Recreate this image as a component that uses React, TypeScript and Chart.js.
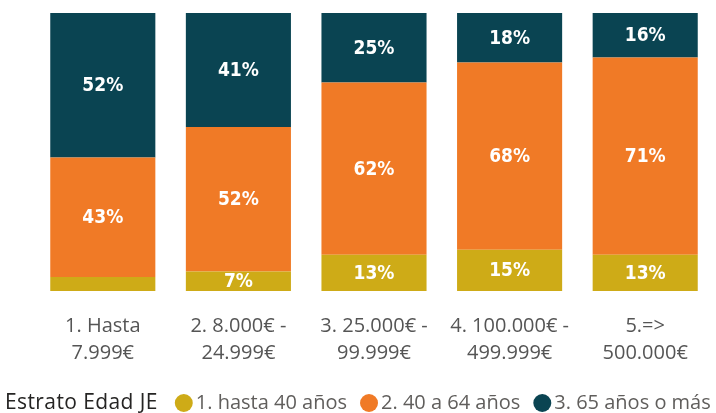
import React, { useEffect, useRef } from "react";
import { Chart, registerables } from "chart.js";

Chart.register(...registerables);

const categories: string[][] = [
  ["1. Hasta", "7.999€"],
  ["2. 8.000€ -", "24.999€"],
  ["3. 25.000€ -", "99.999€"],
  ["4. 100.000€ -", "499.999€"],
  ["5.=>", "500.000€"],
];
const seriesNames = ["1. hasta 40 años", "2. 40 a 64 años", "3. 65 años o más"];
const young = [5, 7, 13, 15, 13];
const middle = [43, 52, 62, 68, 71];
const old = [52, 41, 25, 18, 16];
const colors = ["#CEAB17", "#F07A26", "#0A4452"];
const legendTitle = "Estrato Edad JE";

const rawSeries = [young, middle, old];
const totals = categories.map((_, i) => rawSeries.reduce((s, arr) => s + arr[i], 0));

const FONT = "'Open Sans', 'Noto Sans', sans-serif";

const labelPlugin = {
  id: "segLabels",
  afterDatasetsDraw(chart: any) {
    const ctx = chart.ctx;
    ctx.save();
    ctx.font = "bold 19px 'DejaVu Sans Condensed', 'DejaVu Sans', sans-serif";
    ctx.fillStyle = "#FFFFFF";
    ctx.textAlign = "center";
    ctx.textBaseline = "middle";
    chart.data.datasets.forEach((ds: any, di: number) => {
      const meta = chart.getDatasetMeta(di);
      meta.data.forEach((el: any, i: number) => {
        const h = Math.abs(el.base - el.y);
        if (h < 16) return;
        const raw = rawSeries[di][i];
        ctx.fillText(raw + "%", el.x, (el.y + el.base) / 2 + 1);
      });
    });
    ctx.restore();
  },
};

const legendPlugin = {
  id: "customLegend",
  afterDraw(chart: any) {
    const ctx = chart.ctx;
    ctx.save();
    const y = 403;
    ctx.textBaseline = "middle";
    ctx.textAlign = "left";
    ctx.font = `21px ${FONT}`;
    (ctx as any).letterSpacing = "0.4px";
    ctx.fillStyle = "#252423";
    let x = 5;
    ctx.fillText(legendTitle, x, y);
    x += ctx.measureText(legendTitle).width + 17;
    (ctx as any).letterSpacing = "0px";
    ctx.font = `20px ${FONT}`;
    seriesNames.forEach((name, i) => {
      ctx.fillStyle = colors[i];
      ctx.beginPath();
      ctx.arc(x + 9, y, 9, 0, Math.PI * 2);
      ctx.fill();
      x += 21;
      ctx.fillStyle = "#605E5C";
      ctx.fillText(name, x, y);
      x += ctx.measureText(name).width + 13;
    });
    ctx.restore();
  },
};

export default function App() {
  const ref = useRef<HTMLCanvasElement>(null);
  useEffect(() => {
    if (!ref.current) return;
    const chart = new Chart(ref.current, {
      type: "bar",
      data: {
        labels: categories,
        datasets: rawSeries.map((arr, di) => ({
          label: seriesNames[di],
          data: arr.map((v, i) => (v / totals[i]) * 100),
          backgroundColor: colors[di],
          borderWidth: 0,
          barPercentage: 0.775,
          categoryPercentage: 1,
        })),
      },
      options: {
        responsive: false,
        animation: false,
        layout: { padding: { left: 35, right: 3, top: 13, bottom: 24 } },
        plugins: { legend: { display: false }, tooltip: { enabled: false } },
        scales: {
          x: {
            stacked: true,
            grid: { display: false, drawTicks: false },
            border: { display: false },
            ticks: {
              color: "#555555",
              font: { family: FONT, size: 20, lineHeight: 1.35 },
              padding: 22,
              maxRotation: 0,
              autoSkip: false,
            },
          },
          y: { stacked: true, display: false, min: 0, max: 100 },
        },
      },
      plugins: [labelPlugin, legendPlugin],
    });
    return () => chart.destroy();
  }, []);
  return (
    <div style={{ position: "fixed", left: 0, top: 0, width: 716, height: 413, background: "#fff" }}>
      <canvas ref={ref} width={716} height={413} />
    </div>
  );
}
